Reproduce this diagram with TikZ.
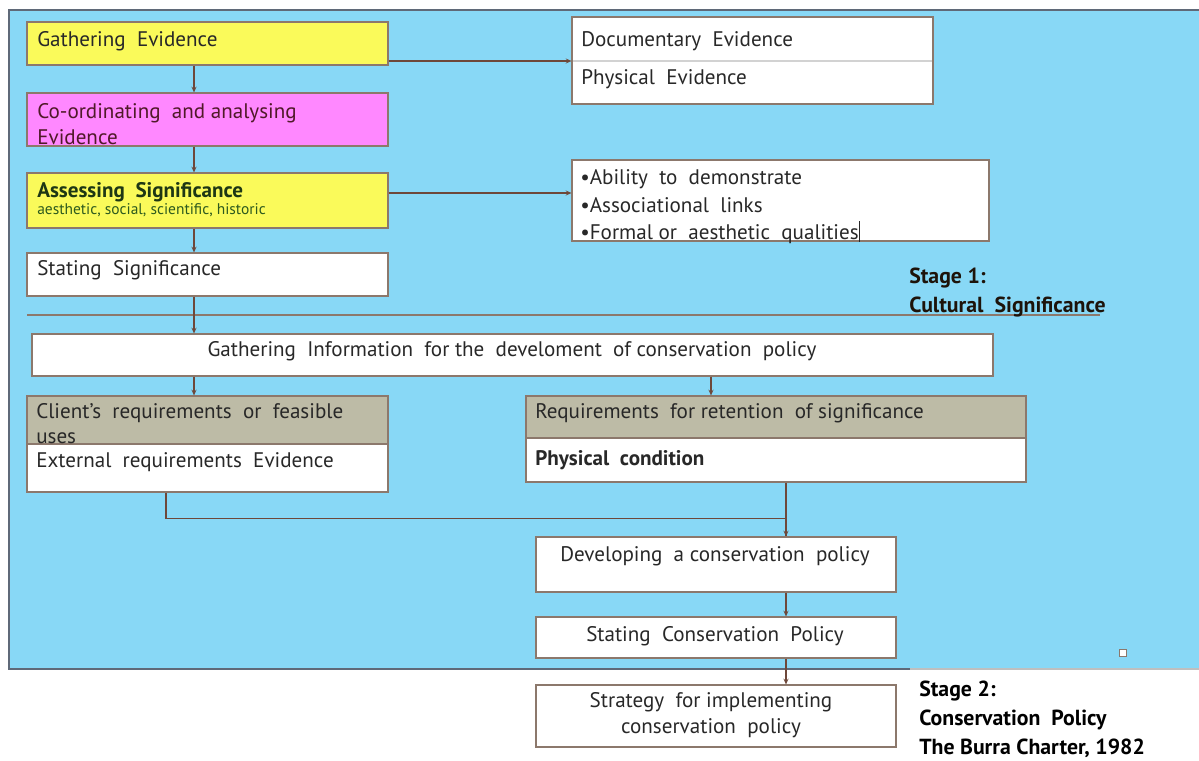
\documentclass[tikz,border=0pt]{standalone}
\usepackage{fontspec}
\setmainfont{PT Sans}
\usetikzlibrary{fit,arrows.meta}

\definecolor{skyblue}{RGB}{136,216,246}
\definecolor{yellowbox}{RGB}{250,250,90}
\definecolor{pinkbox}{RGB}{255,136,255}
\definecolor{greyhead}{RGB}{189,187,166}
\definecolor{boxline}{RGB}{140,120,108}
\definecolor{connline}{RGB}{110,72,58}
\definecolor{panelline}{RGB}{95,105,120}
\definecolor{textdark}{RGB}{40,40,40}
\definecolor{maroon}{RGB}{80,25,40}
\definecolor{darkgreen}{RGB}{30,55,20}
\definecolor{midgreen}{RGB}{45,90,30}

\tikzset{
  box/.style={draw=boxline,fill=white,inner sep=0pt,line width=0.8pt},
  conn/.style={draw=connline,line width=0.9pt,-{Stealth[length=4pt,width=3.5pt]}},
  plain/.style={draw=connline,line width=0.9pt},
  txt/.style={anchor=west,inner sep=0pt,yshift=-1.5pt,text=textdark,font=\fontsize{15}{18}\selectfont},
  ctxt/.style={txt,anchor=center,align=center},
  stagetxt/.style={anchor=west,inner sep=0pt,font=\fontsize{15.5}{18}\selectfont\bfseries},
}

\begin{document}
\begin{tikzpicture}[x=0.025cm,y=-0.025cm]
\useasboundingbox (0,0) rectangle (1199,761);

% panel for stage 1 and stage 2
\fill[skyblue] (9,10) rectangle (1199,669);
\draw[panelline,line width=1pt] (1199,10) -- (9,10) -- (9,669) -- (910,669);
\draw[gray!50,line width=1pt] (910,669) -- (1199,669);
\draw[boxline,fill=white,line width=0.4pt] (1119,649) rectangle (1126,656);

% helper columns and rows
\coordinate (xl) at (194,0);
\coordinate (xr) at (711,0);
\coordinate (xm) at (786,0);
\coordinate (xc) at (166,0);
\coordinate (ya) at (0,61);
\coordinate (yb) at (0,193);

% stage 1 boxes
\node[box,fill=yellowbox,fit={(27,22) (388,65)}] (ge) {};
\node[box,fill=pinkbox,fit={(27,93) (388,146)}] (co) {};
\node[box,fill=yellowbox,fit={(27,173) (388,228)}] (as) {};
\node[box,fit={(27,253) (388,296)}] (ss) {};
\node[box,fit={(572,17) (933,104)}] (dc) {};
\draw[gray!35,line width=1pt] (573,61) -- (932,61);
\node[box,fit={(572,160) (989,241)}] (bl) {};

\node[txt] (tge) at (37,39) {Gathering\ \ Evidence};
\node[txt,text=maroon] (tco1) at (37,111) {Co-ordinating\ \ and analysing};
\node[txt,text=maroon] (tco2) at (37,135) {Evidence};
\node[txt,text=darkgreen,font=\fontsize{15}{18}\selectfont\bfseries] (tas1) at (37,190) {Assessing\ \ Significance};
\node[txt,text=midgreen,font=\fontsize{11}{13}\selectfont] (tas2) at (37,208) {aesthetic, social, scientific, historic};
\node[txt] (tss) at (37,268) {Stating\ \ Significance};
\node[txt] (tdc) at (581,39) {Documentary\ \ Evidence};
\node[txt] (tph) at (581,77) {Physical\ \ Evidence};
\node[txt] (tb1) at (580,177) {•Ability\ \ to\ \ demonstrate};
\node[txt] (tb2) at (580,203) {•Associational\ \ links};
\node[txt] (tb3) at (580,230) {•Formal or\ \ aesthetic\ \ qualities\rule[-2pt]{1.2pt}{15pt}};

\draw[boxline,line width=1pt] (27,315) -- (1100,315);
\node[stagetxt,text=black!85!brown] (st1a) at (909,278) {Stage 1:};
\node[stagetxt,text=black!85!brown] (st1b) at (909,307) {Cultural\ \ Significance};

% stage 2 boxes
\node[box,fit={(32,334) (993,376)}] (gi) {};
\node[ctxt] (tgi) at (512,349) {Gathering\ \ Information\ \ for the\ \ develoment\ \ of conservation\ \ policy};

\node[box,fill=greyhead,fit={(27,396) (388,444)}] (clh) {};
\node[box,fit={(27,444) (388,492)}] (clb) {};
\node[txt] (tcl1) at (36,411) {Client’s\ \ requirements\ \ or\ \ feasible};
\node[txt] (tcl2) at (36,436) {uses};
\node[txt] (tcl3) at (36,460) {External\ \ requirements\ \ Evidence};

\node[box,fill=greyhead,fit={(526,396) (1026,438)}] (rqh) {};
\node[box,fit={(526,438) (1026,482)}] (rqb) {};
\node[txt] (trq1) at (535,411) {Requirements\ \ for retention\ \ of significance};
\node[txt,font=\fontsize{15}{18}\selectfont\bfseries] (trq2) at (535,458) {Physical\ \ condition};

\node[box,fit={(536,537) (896,592)}] (dv) {};
\node[ctxt] (tdv) at (715,554) {Developing\ \ a conservation\ \ policy};
\node[box,fit={(536,617) (896,658)}] (sc) {};
\node[ctxt] (tsc) at (715,634) {Stating\ \ Conservation\ \ Policy};
\node[box,fit={(536,685) (896,747)}] (sg) {};
\node[ctxt] (tsg1) at (711,700) {Strategy\ \ for implementing};
\node[ctxt] (tsg2) at (711,726) {conservation\ \ policy};

\node[stagetxt] (st2a) at (919,691) {Stage 2:};
\node[stagetxt] (st2b) at (919,720) {Conservation\ \ Policy};
\node[stagetxt] (st2c) at (919,748) {The Burra Charter, 1982};

% connectors
\draw[conn] (ge.south -| xl) -- (co.north -| xl);
\draw[conn] (co.south -| xl) -- (as.north -| xl);
\draw[conn] (as.south -| xl) -- (ss.north -| xl);
\draw[conn] (ss.south -| xl) -- (gi.north -| xl);
\draw[conn] (ge.east |- ya) -- (dc.west |- ya);
\draw[conn] (as.east |- yb) -- (bl.west |- yb);
\draw[conn] (gi.south -| xl) -- (clh.north -| xl);
\draw[conn] (gi.south -| xr) -- (rqh.north -| xr);
\draw[plain] (clb.south -| xc) -- ++(0,26) -| (xm |- dv.north);
\draw[conn] (rqb.south -| xm) -- (dv.north -| xm);
\draw[conn] (dv.south -| xm) -- (sc.north -| xm);
\draw[conn] (sc.south -| xm) -- (sg.north -| xm);
\end{tikzpicture}
\end{document}
